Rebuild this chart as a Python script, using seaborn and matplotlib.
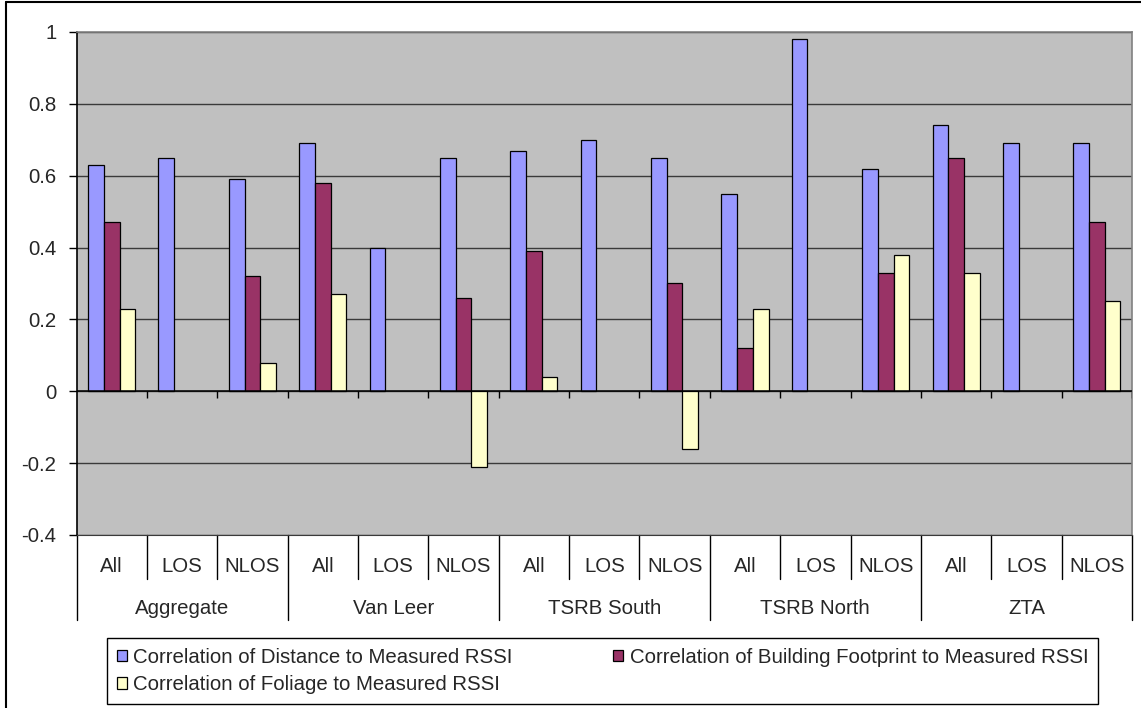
import numpy as np
import pandas as pd
import matplotlib
matplotlib.use("Agg")
import matplotlib.pyplot as plt
import matplotlib.transforms as mtransforms
from matplotlib.lines import Line2D
from matplotlib.patches import Patch
import seaborn as sns

# ---------------- data ----------------
groups = ["Aggregate", "Van Leer", "TSRB South", "TSRB North", "ZTA"]
subcats = ["All", "LOS", "NLOS"]
series_names = [
    "Correlation of Distance to Measured RSSI",
    "Correlation of Building Footprint to Measured RSSI",
    "Correlation of Foliage to Measured RSSI",
]
distance = [0.63, 0.65, 0.59, 0.69, 0.40, 0.65, 0.67, 0.70, 0.65,
            0.55, 0.98, 0.62, 0.74, 0.69, 0.69]
footprint = [0.47, np.nan, 0.32, 0.58, np.nan, 0.26, 0.39, np.nan, 0.30,
             0.12, np.nan, 0.33, 0.65, np.nan, 0.47]
foliage = [0.23, np.nan, 0.08, 0.27, np.nan, -0.21, 0.04, np.nan, -0.16,
           0.23, np.nan, 0.38, 0.33, np.nan, 0.25]
colors = ["#9999FF", "#993366", "#FFFFCC"]
yticks = [-0.4, -0.2, 0, 0.2, 0.4, 0.6, 0.8, 1]

# ---------------- long-form table ----------------
cat_keys = [f"{g}|{s}" for g in groups for s in subcats]
rows = []
for name, vals in zip(series_names, [distance, footprint, foliage]):
    for k, v in zip(cat_keys, vals):
        rows.append({"cat": k, "series": name, "value": v})
df = pd.DataFrame(rows).dropna()

sns.set_style("ticks")
plt.rcParams["font.family"] = ["Liberation Sans", "DejaVu Sans"]
FS = 14.7

W, H = 1141, 708
fig = plt.figure(figsize=(W / 100, H / 100), dpi=100)
ax_l, ax_r, ax_t, ax_b = 76.5, 1132, 32, 535
ax = fig.add_axes([ax_l / W, 1 - ax_b / H, (ax_r - ax_l) / W, (ax_b - ax_t) / H])
ax.set_facecolor("#C0C0C0")

sns.barplot(data=df, x="cat", y="value", hue="series", order=cat_keys,
            hue_order=series_names, palette=colors, width=0.67,
            edgecolor="black", linewidth=0.9, errorbar=None, ax=ax,
            legend=False, zorder=3, saturation=1)

ax.set_xlim(-0.5, len(cat_keys) - 0.5)
ax.set_ylim(yticks[0], yticks[-1])
ax.set_yticks(yticks)
ax.set_yticklabels([f"{v:g}" for v in yticks])
ax.tick_params(axis="y", length=6, width=1, pad=8.5, labelsize=FS,
               color="black", direction="out")
ax.set_xticks([])
ax.set_xlabel("")
ax.set_ylabel("")
for v in yticks:
    ax.axhline(v, color="#3a3a3a", lw=1, zorder=1)
ax.axhline(0, color="black", lw=1.1, zorder=4)

for sp in ["top", "right"]:
    ax.spines[sp].set_color("#808080")
    ax.spines[sp].set_linewidth(1.2)
ax.spines["bottom"].set_color("#3a3a3a")
ax.spines["left"].set_color("black")
ax.spines["left"].set_linewidth(1.2)

# category-boundary ticks on the zero axis
n = len(cat_keys)
bounds = np.arange(n) + 0.5
ax.vlines(bounds, -0.019, 0, color="black", lw=1, zorder=4)

# two-level category labels
tr = mtransforms.blended_transform_factory(ax.transData, ax.transAxes)
ah = ax_b - ax_t
y_sub = -(567 - ax_b) / ah
y_grp = -(609 - ax_b) / ah
y_sub_line = -(579 - ax_b) / ah
y_grp_line = -(620 - ax_b) / ah
for i, k in enumerate(cat_keys):
    g, s = k.split("|")
    ax.text(i, y_sub, s, transform=tr, ha="center", va="center", fontsize=FS)
for j, g in enumerate(groups):
    ax.text(j * 3 + 1, y_grp, g, transform=tr, ha="center", va="center", fontsize=FS)
for b in range(n + 1):
    xb = b - 0.5
    ylow = y_grp_line if b % 3 == 0 else y_sub_line
    ax.add_line(Line2D([xb, xb], [0, ylow], transform=tr, color="black",
                       lw=1, clip_on=False))

# legend
handles = [Patch(facecolor=c, edgecolor="black", linewidth=0.9) for c in colors]
order = [0, 2, 1]
lx0, lx1, ly0, ly1 = 107, 1098, 638, 704
fig.legend([handles[i] for i in order], [series_names[i] for i in order],
           loc="upper left",
           bbox_to_anchor=(lx0 / W, 1 - ly1 / H, (lx1 - lx0) / W, (ly1 - ly0) / H),
           mode="expand", ncol=2, fontsize=FS, frameon=True, fancybox=False,
           edgecolor="black", framealpha=1, handlelength=0.5, handleheight=0.5,
           handletextpad=0.3, labelspacing=0.4, borderpad=0.48,
           borderaxespad=0)
fig.legends[0].get_frame().set_linewidth(1)

# figure border (top and left visible)
fig.add_artist(Line2D([6 / W, 1], [1 - 1.5 / H, 1 - 1.5 / H],
                      transform=fig.transFigure, color="black", lw=1.5))
fig.add_artist(Line2D([6 / W, 6 / W], [0, 1 - 1.5 / H],
                      transform=fig.transFigure, color="black", lw=1.5))

fig.savefig("out.png", dpi=100, facecolor="white")
